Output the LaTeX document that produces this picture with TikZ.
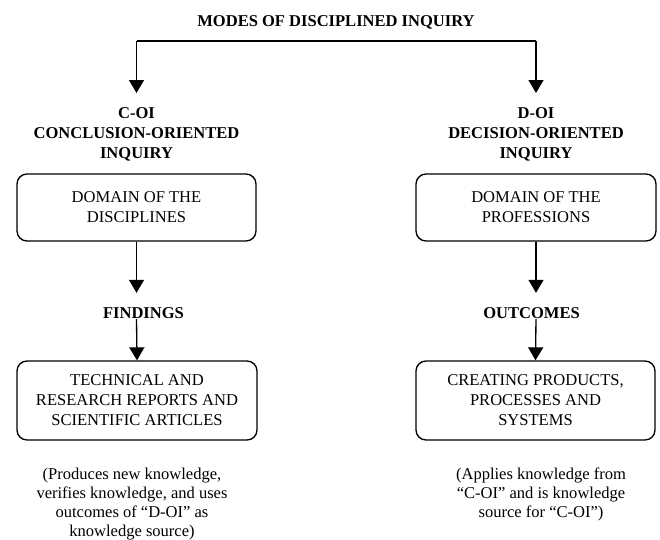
\documentclass[tikz,border=0pt]{standalone}
\usepackage{fontspec}
\setmainfont{Liberation Serif}
\usetikzlibrary{arrows.meta}

\tikzset{
  arr/.style={line width=1pt, -{Triangle[length=9.75pt,width=11.25pt]}},
  kasten/.style={draw, line width=1pt, rounded corners=7.5pt, align=center,
    inner sep=0pt, font=\fontsize{12.4}{15}\selectfont},
  titel/.style={align=center, inner sep=0pt, anchor=north,
    font=\fontsize{12.4}{15}\selectfont\bfseries},
  notiz/.style={align=center, inner sep=0pt, anchor=north,
    font=\fontsize{12.4}{14.2}\selectfont}
}

\begin{document}
\begin{tikzpicture}[x=0.75pt,y=-0.75pt]
    \useasboundingbox (0,0) rectangle (660,539);

    % Oberste Ueberschrift und Verzweigung
    \node[titel] (modes) at (336,15) {MODES OF DISCIPLINED INQUIRY};
    \coordinate (split-l) at (136.5,41);
    \coordinate (split-r) at (536,41);

    % Linke Spalte
    \node[titel] (coi) at (136.5,107) {C-OI\\CONCLUSION-ORIENTED\\INQUIRY};
    \node[kasten, minimum width=179.25pt, minimum height=50.25pt]
        (disz) at (136.5,207.5) {DOMAIN OF THE\\DISCIPLINES};
    \node[titel] (findings) at (143.5,307.5) {FINDINGS};
    \node[kasten, minimum width=180pt, minimum height=59.25pt]
        (reports) at (137,400.5) {TECHNICAL AND\\RESEARCH REPORTS AND\\SCIENTIFIC ARTICLES};
    \node[notiz] (coi-note) at (132,468) {(Produces new knowledge,\\verifies knowledge, and uses\\outcomes of “D-OI” as\\knowledge source)};

    % Rechte Spalte
    \node[titel] (doi) at (536,107) {D-OI\\DECISION-ORIENTED\\INQUIRY};
    \node[kasten, minimum width=180pt, minimum height=50.25pt]
        (prof) at (536,207.5) {DOMAIN OF THE\\PROFESSIONS};
    \node[titel] (outcomes) at (531.5,307.5) {OUTCOMES};
    \node[kasten, minimum width=179.25pt, minimum height=59.25pt]
        (products) at (535.5,400.5) {CREATING PRODUCTS,\\PROCESSES AND\\SYSTEMS};
    \node[notiz] (doi-note) at (541,468) {(Applies knowledge from\\“C-OI” and is knowledge\\source for “C-OI”)};

    % Verbindungen
    \draw[line width=1pt] (split-l) -- (split-r);
    \draw[arr, shorten >=10.5pt] (split-l) -- (coi);
    \draw[arr, shorten >=10.5pt] (split-r) -- (doi);

    \draw[arr, shorten >=11pt] (disz.south) -- (disz.south |- findings.north);
    \draw[arr] (disz.south |- findings.south) -- (reports.north);

    \draw[arr, shorten >=11pt] (prof.south) -- (prof.south |- outcomes.north);
    \draw[arr] (prof.south |- outcomes.south) -- (products.north);
  \end{tikzpicture}
\end{document}
